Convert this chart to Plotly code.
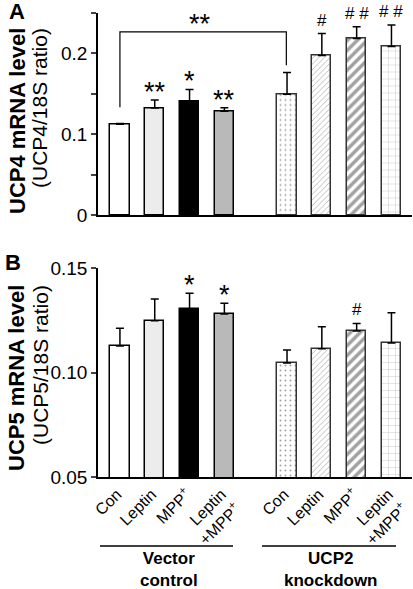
import plotly.graph_objects as go

# ---------------- data ----------------
categories = ["Con", "Leptin", "MPP<sup>+</sup>", "Leptin<br>+MPP<sup>+</sup>",
              "Con", "Leptin", "MPP<sup>+</sup>", "Leptin<br>+MPP<sup>+</sup>"]
groups = ["Vector<br>control", "UCP2<br>knockdown"]

ucp4_mean = [0.112, 0.132, 0.140, 0.128, 0.149, 0.197, 0.218, 0.208]
ucp4_err = [0.001, 0.010, 0.015, 0.0045, 0.027, 0.027, 0.0145, 0.0265]
ucp4_sig = ["", "**", "*", "**", "", "#", "# #", "# #"]

ucp5_mean = [0.1127, 0.1248, 0.1302, 0.1280, 0.1045, 0.1114, 0.1199, 0.1141]
ucp5_err = [0.0085, 0.0104, 0.0077, 0.0051, 0.0063, 0.0105, 0.0036, 0.0145]
ucp5_sig = ["", "", "*", "*", "", "", "#", ""]

ucp4_ticks = [0, 0.05, 0.1, 0.15, 0.2, 0.25]
ucp4_ticktext = ["0", "", "0.1", "", "0.2", ""]
ucp5_ticks = [0.05, 0.10, 0.15]
ucp5_ticktext = ["0.05", "0.10", "0.15"]

# ---------------- styles ----------------
FONT = "Liberation Sans, Arial, sans-serif"
W, H = 413, 589
xpos = [i + (0.8 if i >= 4 else 0) for i in range(len(categories))]

bar_fill = ["#ffffff", "#ececec", "#000000", "#b9b9b9", "#ffffff", "#ffffff", "#ffffff", "#ffffff"]
pat_shape = ["", "", "", "", ".", "/", "/", "+"]
pat_fg = ["#000000"] * 4 + ["#666666", "#444444", "#000000", "#999999"]
pat_size = [8, 8, 8, 8, 5, 4, 7, 7]
pat_sol = [0.3] * 4 + [0.12, 0.18, 0.5, 0.08]
edge = ["#000000"] * 4 + ["#333333"] * 4


def py(p):
    return 1 - p / H


def px(p):
    return p / W


fig = go.Figure()
for mean, err, xa, ya in [(ucp4_mean, ucp4_err, "x", "y"), (ucp5_mean, ucp5_err, "x2", "y2")]:
    fig.add_trace(go.Bar(
        x=xpos, y=mean, width=0.55, xaxis=xa, yaxis=ya,
        marker=dict(color=bar_fill, line=dict(color=edge, width=1.5),
                    pattern=dict(shape=pat_shape, fgcolor=pat_fg, size=pat_size,
                                 solidity=pat_sol, fillmode="overlay")),
        error_y=dict(type="data", array=err, arrayminus=[0] * len(err), symmetric=False,
                     color="black", thickness=1.5, width=4),
        showlegend=False, hoverinfo="skip",
    ))

xr = [-0.63, 8.39]
axis_common = dict(showline=True, linecolor="black", linewidth=1.5, showgrid=False,
                   zeroline=False, mirror=False)
fig.update_layout(
    width=W, height=H, margin=dict(l=0, r=0, t=0, b=0, autoexpand=False),
    paper_bgcolor="white", plot_bgcolor="white",
    font=dict(family=FONT, color="black"),
    bargap=0,
    xaxis=dict(domain=[px(98), px(412)], range=xr, anchor="y", showticklabels=False,
               ticks="", **axis_common),
    yaxis=dict(domain=[py(215), py(12.5)], range=[0, 0.25], anchor="x",
               tickvals=ucp4_ticks, ticktext=ucp4_ticktext, ticks="outside", ticklen=5,
               tickwidth=1.5, tickfont=dict(size=19), **axis_common),
    xaxis2=dict(domain=[px(98), px(412)], range=xr, anchor="y2",
                tickvals=xpos, ticktext=categories, tickangle=-45, ticks="",
                ticklabeloverflow="allow", ticklabelshift=-3,
                tickfont=dict(size=16), **axis_common),
    yaxis2=dict(domain=[py(477), py(268)], range=[0.05, 0.15], anchor="x2",
                tickvals=ucp5_ticks, ticktext=ucp5_ticktext, ticks="outside", ticklen=5,
                tickwidth=1.5, tickfont=dict(size=19), **axis_common),
)

ann = []
# significance marks
for sig, mean, err, xr_, yr_ in [(ucp4_sig, ucp4_mean, ucp4_err, "x", "y"),
                                 (ucp5_sig, ucp5_mean, ucp5_err, "x2", "y2")]:
    for x, s, m, e in zip(xpos, sig, mean, err):
        if not s:
            continue
        star = "*" in s
        ann.append(dict(x=x, y=m + e, xref=xr_, yref=yr_, text=s, showarrow=False,
                        xanchor="center", yanchor="bottom", yshift=-9 if star else 2,
                        font=dict(size=27 if star else 17)))

# bracket over panel A
fig.add_shape(type="path", xref="x", yref="y",
              path="M 0,0.133 L 0,0.226 L 4.78,0.226 L 4.78,0.185",
              line=dict(color="black", width=1.2))
ann.append(dict(x=2.3, y=0.226, xref="x", yref="y", text="**", showarrow=False,
                xanchor="center", yanchor="bottom", yshift=-9, font=dict(size=27)))

# y titles and panel letters
def ptxt(x, y, text, size, angle=0):
    return dict(x=px(x), y=py(y), xref="paper", yref="paper", text=text, textangle=angle,
                showarrow=False, xanchor="center", yanchor="middle", font=dict(size=size))


ann += [
    ptxt(17, 121, "<b>UCP4 mRNA level</b>", 22, -90),
    ptxt(40, 108, "(UCP4/18S ratio)", 21, -90),
    ptxt(17, 378, "<b>UCP5 mRNA level</b>", 22, -90),
    ptxt(40, 365, "(UCP5/18S ratio)", 21, -90),
    ptxt(17, 12, "<b>A</b>", 22),
    ptxt(13, 262, "<b>B</b>", 22),
]

# group labels and underlines
for (x0, x1), g in zip([(100, 233), (262, 396)], groups):
    fig.add_shape(type="line", xref="paper", yref="paper", x0=px(x0), x1=px(x1),
                  y0=py(546), y1=py(546), line=dict(color="black", width=1.5))
    ann.append(ptxt((x0 + x1) / 2 + 2, 569, "<b>" + g + "</b>", 17))

fig.update_layout(annotations=ann)
fig.write_html("out.html", config={"displayModeBar": False},
               post_script="document.body.style.margin='0';")
